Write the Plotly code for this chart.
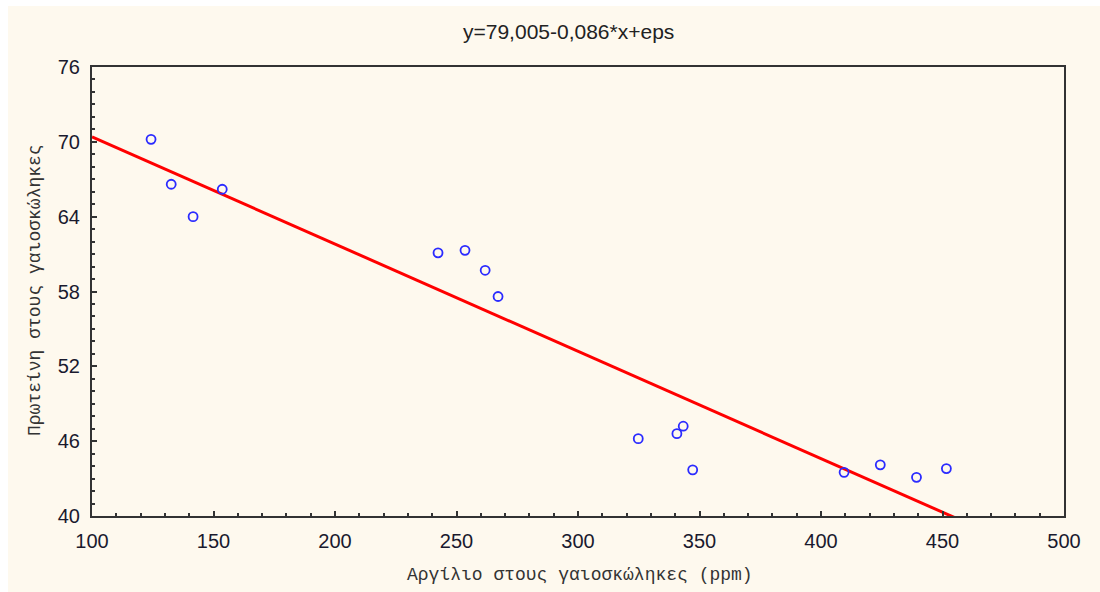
import plotly.graph_objects as go

# Data
argilio_ppm = [124.3, 132.6, 141.6, 153.6, 242.4, 253.5, 261.8, 267.1,
               324.8, 340.7, 343.3, 347.2, 409.5, 424.4, 439.3, 451.6]
proteini = [70.2, 66.6, 64.0, 66.2, 61.1, 61.3, 59.7, 57.6,
            46.2, 46.6, 47.2, 43.7, 43.5, 44.1, 43.1, 43.8]
intercept = 79.005
slope = -0.086
fit_x = [100, 500]
fit_y = [intercept + slope * v for v in fit_x]

x_ticks = [100, 150, 200, 250, 300, 350, 400, 450, 500]
y_ticks = [40, 46, 52, 58, 64, 70, 76]

title_text = "y=79,005-0,086*x+eps"
x_title = "Αργίλιο στους γαιοσκώληκες (ppm)"
y_title = "Πρωτείνη στους γαιοσκώληκες"

W, H = 1100, 592
L, R, T, B = 92, 1064, 67, 516
pw, ph = R - L, B - T

def px(xp):
    return (xp - L) / pw

def py(yp):
    return (B - yp) / ph

fig = go.Figure()
fig.add_trace(go.Scatter(x=fit_x, y=fit_y, mode="lines",
                         line=dict(color="#FF0000", width=3), hoverinfo="skip"))
fig.add_trace(go.Scatter(x=argilio_ppm, y=proteini, mode="markers",
                         marker=dict(symbol="circle-open", size=9,
                                     color="#2B2BFF", line=dict(width=1.8))))

axis_common = dict(showgrid=False, zeroline=False, showline=True, mirror=True,
                   linecolor="#333333", linewidth=2, ticks="inside", ticklen=5,
                   tickwidth=1.5, tickcolor="#333333",
                   tickfont=dict(family="Liberation Sans, Arial", size=20, color="#1a1a2e"))

fig.update_xaxes(range=[100, 500], tickvals=x_ticks, ticktext=[str(v) for v in x_ticks],
                 minor=dict(dtick=10, tick0=100, ticks="inside", ticklen=3, tickwidth=1.5,
                            tickcolor="#333333"),
                 ticklabelstandoff=6, **axis_common)
fig.update_yaxes(range=[40, 76], tickvals=y_ticks, ticktext=[str(v) for v in y_ticks],
                 minor=dict(dtick=1, tick0=40, ticks="inside", ticklen=3, tickwidth=1.5,
                            tickcolor="#333333"),
                 ticklabelstandoff=6, **axis_common)

fig.update_layout(
    width=W, height=H,
    margin=dict(l=L, r=W - R, t=T, b=H - B),
    paper_bgcolor="#FFFFFF", plot_bgcolor="#FFFFFF",
    showlegend=False,
    shapes=[dict(type="rect", xref="paper", yref="paper", layer="below",
                 x0=px(8), x1=px(1100), y0=py(592), y1=py(6),
                 fillcolor="#FEF9EE", line=dict(width=0))],
    annotations=[
        dict(text=title_text, xref="paper", yref="paper", x=px(568), y=py(31),
             xanchor="center", yanchor="middle", showarrow=False,
             font=dict(family="Liberation Sans, Arial", size=21, color="#222222")),
        dict(text=x_title, xref="paper", yref="paper", x=px(580), y=py(575),
             xanchor="center", yanchor="middle", showarrow=False,
             font=dict(family="Liberation Mono, Courier New", size=18, color="#333333")),
        dict(text=y_title, xref="paper", yref="paper", x=px(35), y=py(290),
             xanchor="center", yanchor="middle", showarrow=False, textangle=-90,
             font=dict(family="Liberation Mono, Courier New", size=18, color="#333333")),
    ],
)

fig.write_html("out.html")
